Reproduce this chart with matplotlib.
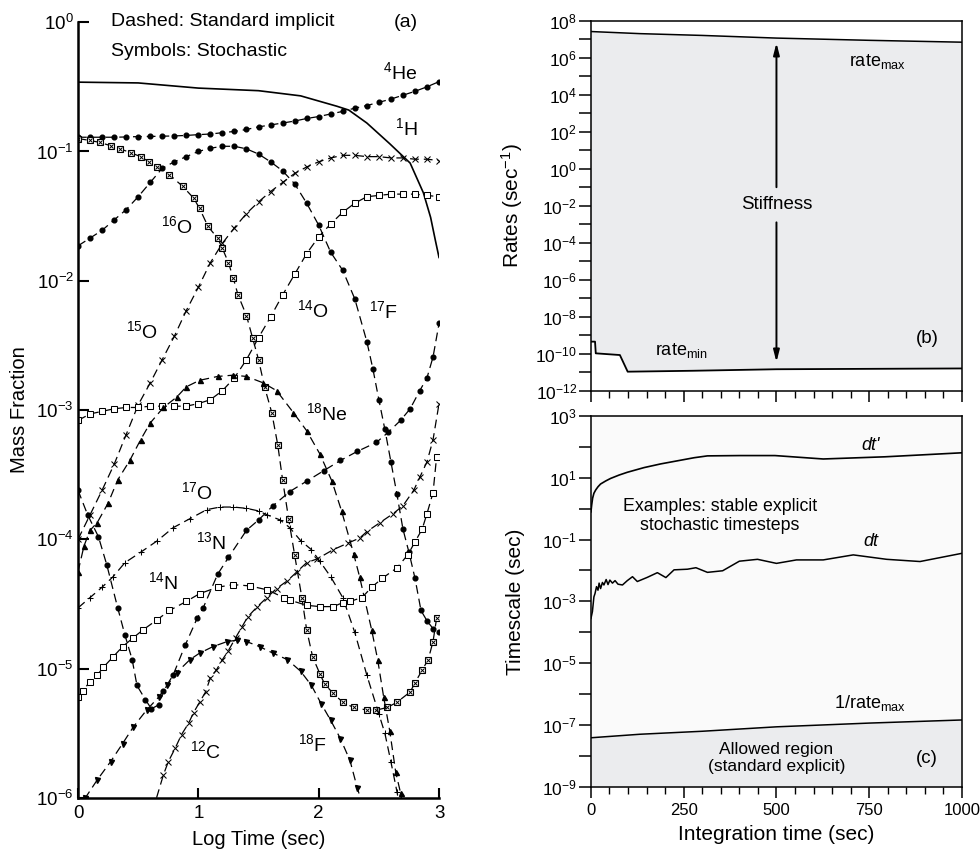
# Nova network: mass fractions (a), rate range (b) and timesteps (c).

import numpy as np
import matplotlib
matplotlib.use('Agg')
import matplotlib.pyplot as plt
from matplotlib.ticker import FixedLocator, FuncFormatter, MultipleLocator, NullFormatter

plt.rcParams['font.family'] = ['Liberation Sans', 'DejaVu Sans']
plt.rcParams['mathtext.fontset'] = 'custom'
plt.rcParams['mathtext.rm'] = 'Liberation Sans'
plt.rcParams['mathtext.it'] = 'Liberation Sans:italic'
plt.rcParams['mathtext.bf'] = 'Liberation Sans:bold'

# (a) log10 time (sec) vs log10 mass fraction
t_grid = [0.0, 0.1, 0.2, 0.3, 0.4, 0.5, 0.6, 0.7, 0.8, 0.9, 1.0, 1.1, 1.2, 1.3, 1.4, 1.5,
          1.6, 1.7, 1.8, 1.9, 2.0, 2.1, 2.2, 2.3, 2.4, 2.5, 2.6, 2.7, 2.8, 2.9, 3.0]

h1_t = [0, 0.25, 0.5, 0.75, 1.0, 1.25, 1.5, 1.85, 2.0, 2.15, 2.25, 2.4, 2.59, 2.76, 2.87, 2.93, 2.97, 3.0]
h1_lx = [-0.464, -0.467, -0.47, -0.49, -0.51, -0.52, -0.53, -0.57, -0.61, -0.65, -0.68, -0.78,
         -0.94, -1.09, -1.32, -1.51, -1.69, -1.82]

he4_lx = [-0.89, -0.89, -0.89, -0.89, -0.888, -0.885, -0.884, -0.882, -0.88, -0.876, -0.87,
          -0.865, -0.855, -0.845, -0.83, -0.81, -0.795, -0.78, -0.765, -0.745, -0.73, -0.71,
          -0.69, -0.665, -0.645, -0.62, -0.595, -0.565, -0.535, -0.50, -0.46]

o16_t = [0, 0.1, 0.18, 0.27, 0.35, 0.44, 0.52, 0.59, 0.66, 0.76, 0.87, 0.96, 1.01, 1.08, 1.16,
         1.20, 1.25, 1.29, 1.33, 1.40, 1.45, 1.50, 1.55, 1.61, 1.66, 1.70, 1.75, 1.80, 1.86, 1.90,
         1.95, 2.01, 2.05, 2.12, 2.20, 2.29, 2.40, 2.48, 2.57, 2.65, 2.76, 2.80, 2.86, 2.91, 2.95, 2.98]
o16_lx = [-0.90, -0.915, -0.93, -0.955, -0.98, -1.01, -1.04, -1.08, -1.12, -1.18, -1.27, -1.36,
          -1.44, -1.58, -1.67, -1.75, -1.86, -1.98, -2.11, -2.27, -2.44, -2.61, -2.82, -3.02,
          -3.27, -3.54, -3.84, -4.12, -4.45, -4.70, -4.91, -5.04, -5.12, -5.19, -5.26, -5.30,
          -5.32, -5.32, -5.30, -5.26, -5.18, -5.11, -5.01, -4.93, -4.79, -4.61]

f17_t = [0, 0.1, 0.2, 0.3, 0.4, 0.5, 0.6, 0.7, 0.8, 0.9, 1.0, 1.1, 1.2, 1.3, 1.4, 1.5, 1.6, 1.7,
         1.8, 1.9, 2.0, 2.1, 2.2, 2.3, 2.4, 2.45, 2.5, 2.55, 2.6, 2.65, 2.7, 2.75, 2.8, 2.85,
         2.9, 2.95, 3.0]
f17_lx = [-1.73, -1.67, -1.61, -1.53, -1.45, -1.35, -1.24, -1.13, -1.08, -1.04, -1.0, -0.975,
          -0.96, -0.96, -0.98, -1.02, -1.08, -1.15, -1.25, -1.40, -1.57, -1.78, -1.92, -2.14,
          -2.47, -2.68, -2.92, -3.15, -3.40, -3.65, -3.92, -4.10, -4.30, -4.55, -4.63, -4.69, -4.72]

o15_lx = [-4.0, -3.81, -3.62, -3.42, -3.19, -2.96, -2.79, -2.61, -2.43, -2.23, -2.05, -1.86,
          -1.71, -1.59, -1.48, -1.39, -1.31, -1.24, -1.17, -1.12, -1.08, -1.05, -1.03, -1.03,
          -1.04, -1.04, -1.05, -1.05, -1.06, -1.06, -1.07]

o14_lx = [-3.08, -3.03, -3.01, -2.99, -2.98, -2.98, -2.97, -2.97, -2.97, -2.97, -2.95, -2.92,
          -2.85, -2.75, -2.61, -2.44, -2.28, -2.11, -1.95, -1.79, -1.66, -1.56, -1.47, -1.40,
          -1.35, -1.34, -1.33, -1.33, -1.33, -1.34, -1.35]

ne18_t = [0, 0.05, 0.1, 0.16, 0.25, 0.33, 0.43, 0.52, 0.6, 0.71, 0.82, 0.9, 1.01, 1.16, 1.29,
          1.4, 1.54, 1.65, 1.79, 1.9, 2.01, 2.11, 2.19, 2.29, 2.34, 2.44, 2.49, 2.54, 2.59,
          2.64, 2.68, 2.72]
ne18_lx = [-4.25, -4.05, -3.93, -3.87, -3.72, -3.54, -3.39, -3.23, -3.10, -2.98, -2.90, -2.82,
           -2.77, -2.74, -2.73, -2.74, -2.79, -2.85, -3.02, -3.16, -3.34, -3.55, -3.78, -4.11,
           -4.29, -4.70, -4.93, -5.22, -5.48, -5.80, -5.96, -6.2]

o17_t = [0, 0.1, 0.2, 0.29, 0.39, 0.52, 0.66, 0.79, 0.93, 1.07, 1.18, 1.29, 1.40, 1.50, 1.57,
         1.68, 1.76, 1.85, 1.94, 2.01, 2.1, 2.2, 2.3, 2.4, 2.5, 2.55, 2.6, 2.65, 2.68]
o17_lx = [-4.53, -4.45, -4.37, -4.29, -4.18, -4.10, -4.01, -3.91, -3.84, -3.77, -3.75, -3.75,
          -3.76, -3.78, -3.81, -3.85, -3.91, -4.01, -4.08, -4.17, -4.29, -4.45, -4.72, -5.05,
          -5.35, -5.50, -5.72, -5.95, -6.1]

n13_t = [0, 0.08, 0.17, 0.24, 0.33, 0.39, 0.45, 0.49, 0.56, 0.61, 0.67, 0.71, 0.79, 0.89, 0.99,
         1.04, 1.16, 1.25, 1.40, 1.50, 1.62, 1.76, 1.90, 2.04, 2.18, 2.32, 2.48, 2.58, 2.68,
         2.76, 2.84, 2.90, 2.95, 3.0]
n13_lx = [-3.62, -3.81, -3.98, -4.20, -4.53, -4.74, -4.93, -5.13, -5.24, -5.31, -5.28, -5.17,
          -5.05, -4.82, -4.61, -4.53, -4.27, -4.14, -3.93, -3.85, -3.74, -3.63, -3.55, -3.47,
          -3.39, -3.32, -3.25, -3.17, -3.08, -2.99, -2.85, -2.75, -2.59, -2.33]

n14_t = [0, 0.04, 0.1, 0.16, 0.21, 0.29, 0.37, 0.46, 0.54, 0.66, 0.76, 0.9, 1.01, 1.16, 1.29,
         1.43, 1.57, 1.71, 1.76, 1.9, 2.01, 2.12, 2.2, 2.26, 2.36, 2.44, 2.53, 2.65, 2.74, 2.80,
         2.86, 2.90, 2.95, 2.98]
n14_lx = [-5.22, -5.17, -5.10, -5.05, -4.99, -4.91, -4.83, -4.76, -4.70, -4.62, -4.55, -4.48,
          -4.42, -4.37, -4.35, -4.36, -4.39, -4.45, -4.47, -4.51, -4.52, -4.52, -4.49, -4.48,
          -4.45, -4.37, -4.30, -4.22, -4.12, -4.02, -3.92, -3.80, -3.64, -3.36]

c12_t = [0.62, 0.71, 0.75, 0.81, 0.86, 0.92, 0.96, 1.01, 1.06, 1.10, 1.15, 1.20, 1.25, 1.31,
         1.36, 1.41, 1.49, 1.57, 1.65, 1.74, 1.82, 1.90, 1.99, 2.12, 2.24, 2.34, 2.40, 2.51,
         2.62, 2.70, 2.79, 2.84, 2.90, 2.95, 3.0]
c12_lx = [-6.1, -5.82, -5.72, -5.61, -5.51, -5.42, -5.34, -5.26, -5.18, -5.07, -5.01, -4.93,
          -4.86, -4.76, -4.68, -4.60, -4.52, -4.45, -4.38, -4.32, -4.25, -4.18, -4.15, -4.08,
          -4.03, -3.99, -3.94, -3.87, -3.80, -3.74, -3.62, -3.52, -3.40, -3.23, -2.95]

f18_t = [0.0, 0.06, 0.16, 0.27, 0.37, 0.46, 0.57, 0.67, 0.74, 0.82, 0.93, 1.01, 1.12, 1.24,
         1.32, 1.40, 1.51, 1.62, 1.74, 1.85, 1.94, 2.02, 2.10, 2.18, 2.26, 2.32, 2.38]
f18_lx = [-6.1, -6.0, -5.86, -5.72, -5.58, -5.45, -5.32, -5.22, -5.13, -5.03, -4.93, -4.88,
          -4.83, -4.79, -4.78, -4.79, -4.83, -4.88, -4.93, -5.02, -5.13, -5.27, -5.40, -5.54,
          -5.71, -5.92, -6.1]

species_names = [r'$^{4}$He', r'$^{1}$H', r'$^{16}$O', r'$^{15}$O', r'$^{14}$O', r'$^{17}$F',
                 r'$^{18}$Ne', r'$^{17}$O', r'$^{13}$N', r'$^{14}$N', r'$^{12}$C', r'$^{18}$F']
label_t = [2.68, 2.73, 0.82, 0.53, 1.95, 2.54, 2.07, 0.99, 1.11, 0.71, 1.06, 1.95]
label_x = [0.41, 0.151, 0.0264, 4.1e-3, 5.9e-3, 5.8e-3, 9.5e-4, 2.3e-4, 9.5e-5, 4.7e-5, 2.3e-6, 2.6e-6]

# (b) rates (1/sec) vs integration time (sec)
rate_max_t = [0, 132, 300, 500, 750, 1000]
rate_max = [2.6e7, 2.0e7, 1.6e7, 1.15e7, 8.7e6, 6.9e6]
rate_min_t = [0, 11, 13, 78, 99, 275, 500, 1000]
rate_min = [4.5e-10, 4.5e-10, 1.05e-10, 8.5e-11, 1.07e-11, 1.2e-11, 1.45e-11, 1.6e-11]

# (c) timesteps (sec)
dtp_t = [0, 2, 4.5, 8, 13, 19, 26, 40, 53, 76, 98, 143, 188, 233, 278, 314, 402, 496, 626, 793, 1000]
dtp = [0.79, 1.32, 2.19, 3.16, 4.07, 5.13, 6.31, 7.94, 9.55, 12.3, 15.1, 21.4, 28.2, 35.5, 44.7,
       51.3, 52.5, 52.5, 40.7, 47.9, 64.6]
dt_t = [0, 4, 8, 11, 15, 19, 22, 26, 31, 35, 41, 46, 51, 58, 65, 73, 85, 98, 112, 125, 152, 179,
        202, 224, 260, 283, 314, 355, 400, 449, 500, 554, 626, 707, 797, 887, 1000]
dt = [2.8e-4, 4.7e-4, 1.4e-3, 1.8e-3, 3.0e-3, 2.3e-3, 3.9e-3, 2.6e-3, 4.1e-3, 3.4e-3, 5.1e-3,
      3.5e-3, 4.9e-3, 3.9e-3, 4.7e-3, 3.6e-3, 3.4e-3, 4.7e-3, 6.3e-3, 4.4e-3, 6.0e-3, 8.5e-3,
      5.9e-3, 1.05e-2, 1.1e-2, 1.23e-2, 8.7e-3, 9.8e-3, 2.0e-2, 2.3e-2, 1.7e-2, 2.2e-2, 2.2e-2,
      3.2e-2, 2.3e-2, 1.95e-2, 3.6e-2]

FILL = '#ebecee'


def species(ax, t, lx, marker, **kw):
    y = 10.0 ** np.asarray(lx)
    ax.plot(t, y, color='k', lw=0.9, dashes=(7, 4))
    if marker == 'boxx':
        ax.plot(t, y, ls='none', marker='s', ms=3.8, mfc='white', mec='k', mew=0.8)
        ax.plot(t, y, ls='none', marker='x', ms=3.0, mec='k', mew=0.7)
    else:
        ax.plot(t, y, ls='none', marker=marker, color='k', **kw)


def pow_label(keep):
    def fmt(v, pos):
        e = int(round(np.log10(v)))
        return r'$10^{%d}$' % e if keep(e) else ''
    return FuncFormatter(fmt)


def panel_a(ax):
    dot = dict(ms=3.4)
    sq = dict(ms=3.8, mfc='white', mec='k', mew=0.75)
    cr = dict(ms=3.8, mew=0.75)
    ax.plot(h1_t, 10.0 ** np.asarray(h1_lx), color='k', lw=1.2)
    species(ax, t_grid, he4_lx, 'o', **dot)
    species(ax, o16_t, o16_lx, 'boxx')
    species(ax, f17_t, f17_lx, 'o', **dot)
    species(ax, t_grid, o15_lx, 'x', **cr)
    species(ax, t_grid, o14_lx, 's', **sq)
    species(ax, ne18_t, ne18_lx, '^', ms=3.6)
    species(ax, o17_t, o17_lx, '+', ms=4.4, mew=0.75)
    species(ax, n13_t, n13_lx, 'o', **dot)
    species(ax, n14_t, n14_lx, 's', **sq)
    species(ax, c12_t, c12_lx, 'x', **cr)
    species(ax, f18_t, f18_lx, 'v', ms=3.6)

    for name, xt, xv in zip(species_names, label_t, label_x):
        ax.text(xt, xv, name, fontsize=14, ha='center', va='center')

    ax.text(0.27, 1.02, 'Dashed: Standard implicit', fontsize=14, va='center')
    ax.text(0.27, 0.59, 'Symbols: Stochastic', fontsize=14, va='center')
    ax.text(2.72, 1.0, '(a)', fontsize=14, ha='center', va='center')

    ax.set_yscale('log')
    ax.set_xlim(0, 3)
    ax.set_ylim(1e-6, 1)
    ax.yaxis.set_major_locator(FixedLocator([10.0 ** e for e in range(-6, 1)]))
    ax.yaxis.set_major_formatter(pow_label(lambda e: True))
    ax.yaxis.set_minor_locator(FixedLocator([]))
    ax.set_xticks([0, 1, 2, 3])
    ax.tick_params(axis='y', direction='in', length=8, width=1.5, labelsize=13.5, pad=3)
    ax.tick_params(axis='x', direction='in', length=7, width=1.5, labelsize=13.5, pad=5)
    for side in ['top', 'right']:
        ax.spines[side].set_visible(False)
    for side in ['left', 'bottom']:
        ax.spines[side].set_linewidth(1.8)
    ax.set_xlabel('Log Time (sec)', fontsize=14.5, labelpad=6)
    ax.set_ylabel('Mass Fraction', fontsize=14.5)
    ax.yaxis.set_label_coords(-0.135, 0.5)


def time_axis(ax, labels):
    ax.set_xlim(0, 1000)
    ax.xaxis.set_major_locator(MultipleLocator(250))
    ax.xaxis.set_minor_locator(MultipleLocator(50))
    ax.tick_params(axis='x', which='major', direction='out', length=8, width=1.1,
                   labelsize=12, pad=4)
    ax.tick_params(axis='x', which='minor', direction='out', length=5, width=1.0)
    if not labels:
        ax.xaxis.set_major_formatter(NullFormatter())
    ax.yaxis.set_minor_locator(FixedLocator([]))
    ax.tick_params(axis='y', direction='out', length=9, width=1.1, labelsize=12.5, pad=1)
    for s in ax.spines.values():
        s.set_linewidth(1.1)


def panel_b(ax):
    ax.fill(rate_max_t + rate_min_t[::-1], rate_max + rate_min[::-1], color=FILL, lw=0)
    ax.plot(rate_max_t, rate_max, color='k', lw=1.1)
    ax.plot(rate_min_t, rate_min, color='k', lw=1.3)
    ax.set_yscale('log')
    ax.set_ylim(1e-12, 1e8)
    ax.yaxis.set_major_locator(FixedLocator([10.0 ** e for e in range(-12, 9)]))
    ax.yaxis.set_major_formatter(pow_label(lambda e: e % 2 == 0))
    time_axis(ax, False)

    head = dict(arrowstyle='-|>,head_length=0.7,head_width=0.18', color='k', lw=1.4,
                shrinkA=0, shrinkB=0)
    ax.annotate('', xy=(500, 10 ** 6.8), xytext=(500, 10 ** -1.0), arrowprops=head)
    ax.annotate('', xy=(500, 10 ** -10.45), xytext=(500, 10 ** -2.9), arrowprops=head)
    ax.text(500, 10 ** -1.95, 'Stiffness', fontsize=13.5, ha='center', va='center')
    ax.text(773, 10 ** 5.8, r'rate$_{\mathrm{max}}$', fontsize=13, ha='center', va='center')
    ax.text(245, 10 ** -9.8, r'rate$_{\mathrm{min}}$', fontsize=13, ha='center', va='center')
    ax.text(906, 10 ** -9.2, '(b)', fontsize=13.5, ha='center', va='center')
    ax.set_ylabel(r'Rates (sec$^{-1}$)', fontsize=15)
    ax.yaxis.set_label_coords(-0.178, 0.5)


def panel_c(ax):
    ax.set_facecolor('#fafafa')
    inv = [1.0 / r for r in rate_max]
    ax.fill_between(rate_max_t, 1e-9, inv, color=FILL, lw=0)
    ax.plot(rate_max_t, inv, color='k', lw=1.1)
    ax.plot(dtp_t, dtp, color='k', lw=1.2)
    ax.plot(dt_t, dt, color='k', lw=1.1)
    ax.set_yscale('log')
    ax.set_ylim(1e-9, 1e3)
    ax.yaxis.set_major_locator(FixedLocator([10.0 ** e for e in range(-9, 4)]))
    ax.yaxis.set_major_formatter(pow_label(lambda e: e % 2 != 0))
    time_axis(ax, True)

    ax.text(755, 10 ** 2.06, "dt'", fontsize=13, style='italic', ha='center', va='center')
    ax.text(755, 10 ** -1.07, 'dt', fontsize=13, style='italic', ha='center', va='center')
    ax.text(347, 10 ** -0.24, 'Examples: stable explicit\nstochastic timesteps', fontsize=12.8,
            ha='center', va='center', multialignment='center', linespacing=1.2)
    ax.text(752, 10 ** -6.29, r'1/rate$_{\mathrm{max}}$', fontsize=13, ha='center', va='center')
    ax.text(500, 10 ** -8.08, 'Allowed region\n(standard explicit)', fontsize=12.5,
            ha='center', va='center', multialignment='center', linespacing=1.15)
    ax.text(905, 10 ** -8.07, '(c)', fontsize=13.5, ha='center', va='center')
    ax.set_xlabel('Integration time (sec)', fontsize=15, labelpad=5)
    ax.set_ylabel('Timescale (sec)', fontsize=15)
    ax.yaxis.set_label_coords(-0.178, 0.5)


def main() -> None:
    fig = plt.figure(figsize=(9.8, 8.52), dpi=100)
    ax_a = fig.add_axes([0.0796, 0.0634, 0.3684, 0.9106])
    ax_b = fig.add_axes([0.603, 0.5414, 0.3786, 0.4343])
    ax_c = fig.add_axes([0.603, 0.0766, 0.3786, 0.4351])
    panel_a(ax_a)
    panel_b(ax_b)
    panel_c(ax_c)
    fig.savefig('out.png', dpi=100)


if __name__ == '__main__':
    main()
